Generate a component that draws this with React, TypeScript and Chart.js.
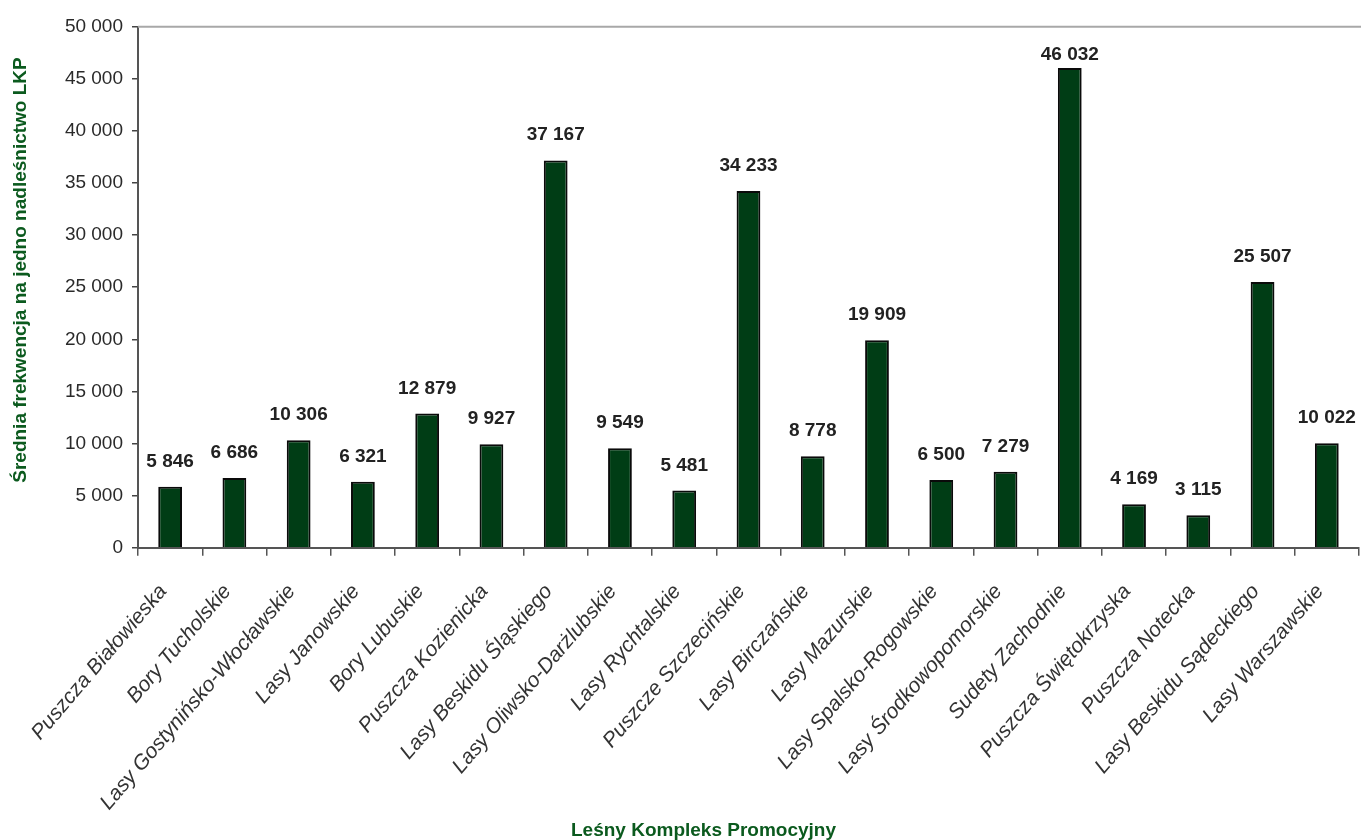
import React, { useEffect, useRef } from 'react';
import { Chart, registerables } from 'chart.js';

Chart.register(...registerables);

const categories: string[] = [
  'Puszcza Białowieska',
  'Bory Tucholskie',
  'Lasy Gostynińsko-Włocławskie',
  'Lasy Janowskie',
  'Bory Lubuskie',
  'Puszcza Kozienicka',
  'Lasy Beskidu Śląskiego',
  'Lasy Oliwsko-Darżlubskie',
  'Lasy Rychtalskie',
  'Puszcze Szczecińskie',
  'Lasy Birczańskie',
  'Lasy Mazurskie',
  'Lasy Spalsko-Rogowskie',
  'Lasy Środkowopomorskie',
  'Sudety Zachodnie',
  'Puszcza Świętokrzyska',
  'Puszcza Notecka',
  'Lasy Beskidu Sądeckiego',
  'Lasy Warszawskie',
];

const values: number[] = [
  5846, 6686, 10306, 6321, 12879, 9927, 37167, 9549, 5481, 34233,
  8778, 19909, 6500, 7279, 46032, 4169, 3115, 25507, 10022,
];

const yMin = 0;
const yMax = 50000;
const yStep = 5000;

const yAxisTitle = 'Średnia frekwencja na jedno nadleśnictwo LKP';
const xAxisTitle = 'Leśny Kompleks Promocyjny';

const FONT = '"Liberation Sans", Arial, Helvetica, sans-serif';
const TITLE_GREEN = '#0b5a1e';

const fmt = (v: number) => String(Math.round(v)).replace(/\B(?=(\d{3})+(?!\d))/g, ' ');

const decorPlugin = {
  id: 'decor',
  afterDatasetsDraw(chart: any, _args: any, opts: any) {
    const { ctx, chartArea } = chart;
    ctx.save();
    // top frame line
    ctx.strokeStyle = '#a8a8a8';
    ctx.lineWidth = 2;
    ctx.beginPath();
    ctx.moveTo(chartArea.left, chartArea.top);
    ctx.lineTo(chart.width, chartArea.top);
    ctx.stroke();

    // value labels
    const meta = chart.getDatasetMeta(0);
    const data = chart.data.datasets[0].data as number[];
    ctx.font = `bold 19px ${FONT}`;
    ctx.fillStyle = '#222222';
    ctx.textAlign = 'center';
    ctx.textBaseline = 'alphabetic';
    meta.data.forEach((bar: any, i: number) => {
      const y = Math.max(bar.y - opts.labelGap, chartArea.top + opts.labelTopMin);
      ctx.fillText(fmt(data[i]), bar.x, y);
    });

    // axis titles
    ctx.font = `bold 19px ${FONT}`;
    ctx.fillStyle = TITLE_GREEN;
    ctx.textAlign = 'center';
    ctx.textBaseline = 'alphabetic';
    ctx.fillText(xAxisTitle, opts.xTitleX, opts.xTitleY);

    ctx.translate(opts.yTitleX, opts.yTitleY);
    ctx.rotate(-Math.PI / 2);
    ctx.textBaseline = 'middle';
    ctx.fillText(yAxisTitle, 0, 0);
    ctx.restore();
  },
};

export default function App() {
  const ref = useRef<HTMLCanvasElement | null>(null);

  useEffect(() => {
    if (!ref.current) return;
    const chart = new Chart(ref.current, {
      type: 'bar',
      data: {
        labels: categories,
        datasets: [
          {
            data: values,
            backgroundColor: '#003d15',
            borderColor: '#0a0a0a',
            borderWidth: 2,
            categoryPercentage: 1,
            barPercentage: 0.37,
          },
        ],
      },
      options: {
        animation: false,
        responsive: false,
        devicePixelRatio: 1,
        layout: { padding: { top: 26.7, right: 1, left: 0, bottom: 0 } },
        plugins: {
          legend: { display: false },
          tooltip: { enabled: false },
          decor: {
            labelGap: 20,
            labelTopMin: 33,
            xTitleX: 703.5,
            xTitleY: 836,
            yTitleX: 21,
            yTitleY: 270,
          },
        } as any,
        scales: {
          x: {
            offset: true,
            grid: {
              offset: true,
              drawOnChartArea: false,
              drawTicks: true,
              tickLength: 8,
              color: '#555555',
              lineWidth: 1.5,
            },
            border: { display: true, color: '#555555', width: 2 },
            ticks: {
              autoSkip: false,
              minRotation: 49.5,
              maxRotation: 49.5,
              padding: 24,
              labelOffset: -7,
              color: '#333333',
              font: { family: FONT, size: 21, style: 'italic' },
            },
            afterFit: (scale: any) => {
              scale.height = 292.3;
            },
          },
          y: {
            min: yMin,
            max: yMax,
            grid: {
              drawOnChartArea: false,
              drawTicks: true,
              tickLength: 6,
              color: '#444444',
              lineWidth: 1.5,
            },
            border: { display: true, color: '#555555', width: 2 },
            ticks: {
              stepSize: yStep,
              padding: 9,
              color: '#2a2a2a',
              font: { family: FONT, size: 19 },
              callback: (v: any) => fmt(Number(v)),
            },
            afterFit: (scale: any) => {
              scale.width = 138;
            },
          },
        },
      },
      plugins: [decorPlugin],
    });
    return () => chart.destroy();
  }, []);

  return (
    <div
      style={{
        position: 'fixed',
        left: 0,
        top: 0,
        width: '1361px',
        height: '840px',
        overflow: 'hidden',
        background: '#ffffff',
      }}
    >
      <canvas ref={ref} width={1370} height={840} style={{ display: 'block', width: '1370px', height: '840px' }} />
    </div>
  );
}
